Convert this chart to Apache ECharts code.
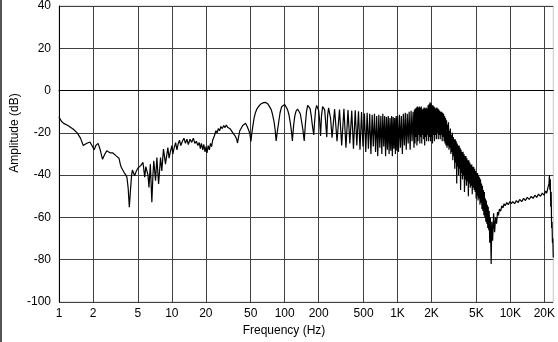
<!DOCTYPE html>
<html lang="en">
<head>
    <meta charset="UTF-8">
    <title>Frequency Response</title>
    <script src="https://cdn.jsdelivr.net/npm/echarts@6/dist/echarts.min.js"></script>
    <style>
        html, body { margin: 0; padding: 0; background: #fff; }
        #chart { width: 558px; height: 342px; }
    </style>
</head>
<body>
    <div id="chart"></div>
    <script>
        // gridlines / labels on the frequency axis
        var tickHz = [1, 2, 5, 10, 20, 50, 100, 200, 500, 1000, 2000, 5000, 10000, 20000];
        var tickLabels = ['1', '2', '5', '10', '20', '50', '100', '200', '500', '1K', '2K', '5K', '10K', '20K'];

        // [Hz, dB], section by section
        var lowEnd = [
            [1, -12.5], [1.05, -14.5], [1.1, -15.5], [1.2, -16.5], [1.34, -18.3], [1.45, -20], [1.55, -22.5],
            [1.64, -26], [1.75, -25], [1.8, -24.5], [1.88, -24.3], [1.96, -26], [2.05, -28], [2.12, -26],
            [2.22, -25], [2.32, -28], [2.43, -32.5], [2.55, -30], [2.65, -28.5], [2.72, -29], [2.85, -29.5],
            [3.0, -29.5], [3.12, -30], [3.23, -31], [3.4, -32], [3.5, -35], [3.57, -36.4], [3.68, -37],
            [3.8, -39], [3.92, -40], [4.0, -41], [4.1, -46], [4.2, -55.2], [4.3, -47], [4.4, -40],
            [4.47, -37.6], [4.58, -38.5], [4.68, -40.3], [4.85, -38], [5.0, -36.7], [5.15, -37.5],
            [5.3, -35.5], [5.45, -36], [5.55, -34], [5.75, -41], [5.88, -36], [6.0, -35.6], [6.15, -40],
            [6.27, -45.8], [6.45, -34.8], [6.65, -52.8], [6.8, -40], [6.92, -33.2], [7.17, -42.6],
            [7.37, -31.7], [7.63, -44.2], [7.94, -31.7], [8.15, -38], [8.43, -27.7], [8.6, -31],
            [8.78, -34.8], [9.22, -27], [9.45, -32], [9.7, -29], [10.0, -26], [10.2, -30], [10.5, -27],
            [10.8, -24.6], [11.1, -28], [11.4, -25], [11.7, -23.5], [12.0, -26], [12.4, -24], [12.8, -22.5],
            [13.2, -25], [13.6, -23], [14.0, -25.5], [14.5, -23], [15.0, -24.5], [15.5, -22.5], [16.0, -25],
            [16.5, -24], [17.0, -26]
        ];
        var lobes = [
            [17.5, -24.6], [17.9, -27.5], [18.3, -25], [18.8, -28], [19.2, -25.5], [19.7, -29], [20.1, -26.5],
            [20.5, -29.5], [21, -26], [21.5, -28], [22, -25], [22.5, -26.5], [23, -23.5], [23.8, -21.5],
            [24.6, -19], [25.2, -20], [25.8, -18], [26.5, -19], [27.2, -17], [28, -18], [28.8, -16.5],
            [29.6, -17.5], [30.4, -16.3], [31.2, -17.3], [32, -16.8], [33, -18.2], [34, -18.5], [35.2, -20.5],
            [36.5, -21.5], [37.5, -23], [38.2, -24.8], [39, -22], [40, -19], [41, -18.3], [42.5, -16.5],
            [43.8, -15.7], [45, -15.5], [46.5, -17], [48, -18.8], [49.2, -20.5], [50.2, -24], [51.2, -20],
            [52.5, -16], [53.6, -12.9], [55, -10.5], [57, -8.5], [59.3, -7.2], [62, -6.2], [65, -5.7],
            [68, -5.6], [71, -6.3], [73.5, -7.2], [76, -9], [78, -11.2], [80.3, -14.4], [82.3, -18.5],
            [84, -23.8], [86, -19.5], [88.5, -15], [91, -10.5], [94, -7.6], [97, -6.8], [100, -6.6],
            [103, -7.4], [106, -9], [109, -11.3], [112, -15], [115, -19.5], [117, -23.8], [120, -16.5],
            [123, -12], [126, -9.8], [130, -8.7], [134, -9], [137.5, -11], [141, -14.4], [145, -18.5],
            [149, -23.8], [152, -17], [156, -10], [160, -7], [164, -6.8], [168, -8.5], [172, -12],
            [176, -16.5], [181, -21], [184, -15], [188, -9], [192, -7], [196, -7.2], [200, -9.5],
            [204, -14], [208, -21.5], [212, -12], [217, -7.6], [222, -7.5], [226, -9], [230, -14],
            [236, -22], [240, -12], [245, -8.2], [250, -8], [255, -13], [263, -22.3]
        ];
        var comb = [
            [277, -8.8], [291, -24], [306, -9], [320, -26], [335, -8.6], [349, -27], [364, -9.2], [378, -25],
            [393, -9.5], [407, -27.5], [422, -9.3], [436, -26], [451, -9.8], [465, -28], [480, -10.2],
            [494, -26.5], [509, -10.8], [523, -29], [538, -10.5], [552, -27.5], [567, -11], [581, -30],
            [596, -11.5], [610, -26.5], [625, -11], [639, -29], [654, -12], [668, -31], [683, -11.5],
            [697, -27], [712, -12], [726, -30], [741, -11], [755, -26.5], [770, -12], [784, -31],
            [799, -12.5], [813, -28], [828, -12], [842, -30], [857, -13], [871, -28.5], [886, -12],
            [900, -31], [915, -12.5], [929, -27.5], [944, -13], [958, -30], [973, -12], [987, -28.5]
        ];
        var band = [
            [1000, -12], [1020, -29], [1040, -11.5], [1061, -27], [1082, -12], [1104, -30], [1126, -11],
            [1149, -26], [1172, -10.5], [1195, -28], [1219, -11], [1243, -25], [1268, -10], [1294, -28],
            [1319, -9.5], [1346, -24], [1373, -10], [1400, -27], [1414, -9], [1428, -25], [1442, -8.5],
            [1457, -22], [1471, -8], [1486, -26], [1501, -7.5], [1516, -24], [1531, -8], [1546, -21],
            [1561, -7.5], [1577, -25], [1593, -8], [1608, -22], [1624, -7.5], [1641, -25], [1657, -9],
            [1673, -21], [1690, -8.5], [1707, -23], [1724, -8], [1741, -26], [1758, -8.5], [1776, -22],
            [1793, -8], [1811, -24], [1830, -8.5], [1848, -21], [1866, -7], [1885, -24], [1904, -6.5],
            [1922, -22], [1941, -5.5], [1961, -24], [1980, -6], [2000, -22], [2020, -7], [2040, -25],
            [2060, -7], [2081, -21], [2101, -7.5], [2122, -24], [2143, -8], [2165, -21], [2186, -8.5],
            [2208, -23], [2230, -8], [2252, -20], [2275, -8.5], [2297, -23], [2320, -9], [2343, -21],
            [2366, -9.5], [2390, -23], [2414, -10], [2438, -21], [2462, -10], [2487, -24], [2511, -10.5],
            [2536, -22], [2561, -11], [2587, -24], [2613, -12], [2639, -25], [2665, -13], [2692, -26],
            [2719, -14]
        ];
        var rolloff = [
            [2746, -27], [2773, -16], [2800, -26], [2828, -15], [2856, -28], [2885, -19], [2914, -27],
            [2943, -18], [2972, -30], [3002, -21], [3031, -29], [3061, -20], [3092, -33], [3123, -22],
            [3154, -31], [3185, -23], [3217, -37], [3249, -23], [3281, -34], [3314, -24], [3347, -44],
            [3380, -25], [3414, -36], [3448, -26], [3482, -40], [3517, -26], [3552, -37], [3587, -27],
            [3623, -47], [3659, -28], [3695, -39], [3732, -29], [3769, -42], [3807, -29], [3845, -40],
            [3883, -30], [3921, -48], [3960, -31], [4000, -42], [4040, -31], [4080, -45], [4120, -32],
            [4161, -43], [4203, -33], [4245, -50], [4287, -33], [4330, -44], [4373, -34], [4416, -46],
            [4460, -35], [4505, -45], [4550, -35], [4595, -49], [4641, -36], [4687, -46], [4733, -36],
            [4780, -47], [4828, -37], [4876, -48], [4924, -38], [4973, -51], [5023, -39], [5073, -50],
            [5123, -39], [5174, -52], [5226, -40], [5278, -51], [5330, -41], [5383, -54], [5437, -42],
            [5491, -53], [5546, -44], [5601, -56], [5657, -45], [5713, -57], [5770, -47], [5827, -59],
            [5885, -48], [5944, -60], [6003, -51], [6062, -62], [6123, -52], [6184, -63], [6245, -54],
            [6307, -65], [6370, -55], [6433, -66], [6497, -57], [6562, -72], [6650, -60], [6760, -82],
            [6850, -62], [6964, -71], [7103, -58]
        ];
        var tail = [
            [7250, -67], [7400, -60], [7550, -63], [7700, -57.5], [7850, -59], [8000, -56], [8200, -57],
            [8400, -54.5], [8600, -55.5], [8800, -53.5], [9000, -54.5], [9300, -53], [9600, -54],
            [9900, -52.5], [10200, -53.5], [10500, -52.5], [10900, -53.5], [11300, -52], [11700, -53],
            [12100, -51.5], [12600, -52.5], [13100, -51], [13600, -52], [14100, -50.5], [14700, -51.5],
            [15300, -50], [15900, -51], [16500, -49.5], [17100, -50.5], [17800, -49], [18500, -50],
            [19200, -48.5], [19900, -49.5], [20500, -47.5], [21000, -48.5], [21500, -46], [22000, -44],
            [22200, -40], [22400, -47], [22600, -42], [22800, -55], [23000, -48], [23200, -65],
            [23400, -62], [23600, -72], [23800, -70], [24000, -79]
        ];

        var chart = echarts.init(document.getElementById('chart'));

        // x axis works in log10(Hz)
        var tickPos = tickHz.map(function (f) { return Math.log10(f); });
        var points = [].concat(lowEnd, lobes, comb, band, rolloff, tail).map(function (p) {
            return [Math.log10(p[0]), p[1]];
        });

        var font = 'Liberation Sans, Arial, sans-serif';

        var options = {
            animation: false,
            backgroundColor: '#fff',
            grid: {
                left: 59, right: 3, top: 4, bottom: 40,
                show: true, borderColor: '#c8c8c8', borderWidth: 1
            },
            xAxis: {
                type: 'value',
                min: 0,
                max: Math.log10(24000),
                axisLine: { show: true, lineStyle: { color: '#000', width: 1 } },
                axisTick: { show: false, customValues: tickPos },
                splitLine: { show: true, lineStyle: { color: '#404040', width: 1 } },
                axisLabel: {
                    customValues: tickPos,
                    color: '#000',
                    fontFamily: font,
                    fontSize: 12,
                    margin: 6,
                    formatter: function (value) {
                        for (var i = 0; i < tickPos.length; i++) {
                            if (Math.abs(tickPos[i] - value) < 1e-6) return tickLabels[i];
                        }
                        return '';
                    }
                }
            },
            yAxis: {
                type: 'value',
                min: -100,
                max: 40,
                interval: 20,
                axisLine: { show: true, lineStyle: { color: '#000', width: 1 } },
                axisTick: { show: false },
                splitLine: { show: true, lineStyle: { color: '#404040', width: 1 } },
                axisLabel: { color: '#000', fontFamily: font, fontSize: 12, margin: 8 }
            },
            graphic: [
                { type: 'rect', shape: { x: 0, y: 0, width: 2, height: 342 }, style: { fill: '#555' } },
                {
                    type: 'text', x: 15, y: 133, rotation: Math.PI / 2,
                    style: { text: 'Amplitude (dB)', align: 'center', verticalAlign: 'middle',
                             fill: '#000', font: '12px ' + font }
                },
                {
                    type: 'text', x: 284, y: 331,
                    style: { text: 'Frequency (Hz)', align: 'center', verticalAlign: 'middle',
                             fill: '#000', font: '12px ' + font }
                }
            ],
            series: [
                {
                    type: 'line',
                    data: points,
                    showSymbol: false,
                    lineStyle: { color: '#000', width: 1.2 }
                }
            ]
        };

        chart.setOption(options);
    </script>
</body>
</html>
